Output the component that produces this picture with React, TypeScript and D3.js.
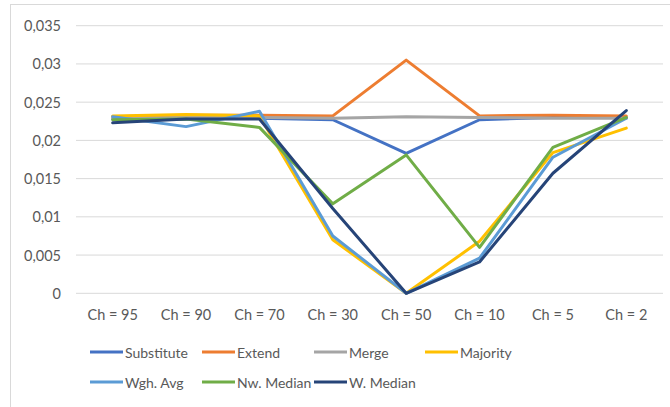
import React from "react";
import * as d3 from "d3";

const categories = ["Ch = 95", "Ch = 90", "Ch = 70", "Ch = 30", "Ch = 50", "Ch = 10", "Ch = 5", "Ch = 2"];
const yTicks = [0, 0.005, 0.01, 0.015, 0.02, 0.025, 0.03, 0.035];

const substitute = [0.0228, 0.0228, 0.0229, 0.0227, 0.0183, 0.0227, 0.023, 0.023];
const extend = [0.0231, 0.0233, 0.0233, 0.0232, 0.0305, 0.0232, 0.0233, 0.0232];
const merge = [0.0229, 0.023, 0.023, 0.0229, 0.0231, 0.023, 0.0229, 0.0229];
const majority = [0.0232, 0.0234, 0.0232, 0.007, 0, 0.0068, 0.0184, 0.0216];
const wghAvg = [0.0231, 0.0218, 0.0238, 0.0075, 0, 0.0046, 0.0178, 0.0229];
const nwMedian = [0.0227, 0.0228, 0.0217, 0.0117, 0.0181, 0.006, 0.0191, 0.023];
const wMedian = [0.0223, 0.0228, 0.0228, 0.0111, 0, 0.0041, 0.0157, 0.0239];

const seriesNames = ["Substitute", "Extend", "Merge", "Majority", "Wgh. Avg", "Nw. Median", "W. Median"];
const seriesValues = [substitute, extend, merge, majority, wghAvg, nwMedian, wMedian];
const colors = ["#4472C4", "#ED7D31", "#A5A5A5", "#FFC000", "#5B9BD5", "#70AD47", "#264478"];

const W = 670;
const H = 407;
const plotLeft = 76;
const plotRight = 663;
const plotTop = 25.7;
const plotBottom = 293.3;
const font = "Lato, 'Open Sans', sans-serif";
const textColor = "#595959";

export default function App() {
  const x = d3.scaleBand<string>().domain(categories).range([plotLeft, plotRight]);
  const y = d3.scaleLinear().domain([0, 0.035]).range([plotBottom, plotTop]);
  const line = d3
    .line<number>()
    .x((_, i) => (x(categories[i]) as number) + x.bandwidth() / 2)
    .y((d) => y(d));
  const fmt = (v: number) => (v === 0 ? "0" : String(+v.toFixed(3)).replace(".", ","));

  const legendCols = [90, 202, 314, 425];
  const legendRows = [352, 382];

  return (
    <svg
      width={W}
      height={H}
      style={{ position: "absolute", left: 0, top: 0, background: "#fff" }}
      fontFamily={font}
    >
      <rect x={0} y={0} width={W} height={H} fill="#fff" />
      <rect x={10.5} y={4.5} width={800} height={600} fill="none" stroke="#D9D9D9" strokeWidth={1} />
      {yTicks.map((t) => (
        <g key={t}>
          <line x1={plotLeft} x2={plotRight} y1={y(t)} y2={y(t)} stroke="#D9D9D9" strokeWidth={1} />
          <text
            x={61}
            y={y(t)}
            textAnchor="end"
            dominantBaseline="central"
            fontSize={14.5}
            fill={textColor}
          >
            {fmt(t)}
          </text>
        </g>
      ))}
      {categories.map((c) => (
        <text
          key={c}
          x={(x(c) as number) + x.bandwidth() / 2}
          y={314}
          textAnchor="middle"
          dominantBaseline="central"
          fontSize={14.5}
          fill={textColor}
        >
          {c}
        </text>
      ))}
      {seriesValues.map((vals, i) => (
        <path
          key={seriesNames[i]}
          d={line(vals) as string}
          fill="none"
          stroke={colors[i]}
          strokeWidth={3}
          strokeLinejoin="round"
          strokeLinecap="round"
        />
      ))}
      {seriesNames.map((name, i) => {
        const cx = legendCols[i % 4];
        const cy = legendRows[Math.floor(i / 4)];
        return (
          <g key={name}>
            <line x1={cx} x2={cx + 33} y1={cy} y2={cy} stroke={colors[i]} strokeWidth={3} />
            <text x={cx + 35} y={cy} dominantBaseline="central" fontSize={14} fill={textColor}>
              {name}
            </text>
          </g>
        );
      })}
    </svg>
  );
}
